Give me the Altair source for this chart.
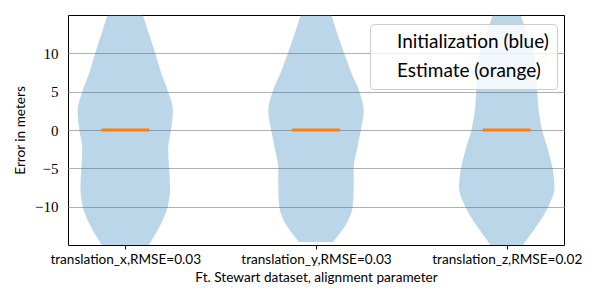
import altair as alt
import pandas as pd

# ---- data ----
param_pos = [1, 2, 3]
param_labels = ["translation_x,RMSE=0.03", "translation_y,RMSE=0.03", "translation_z,RMSE=0.02"]

# error levels (metres) at which the violin outline was read, top to bottom
levels_x = [15, 12.5, 10, 7.5, 5, 2.5, 0, -2.5, -5, -7.5, -10, -12.5, -15]
dens_x = [0.37, 0.50, 0.63, 0.75, 0.90, 1.00, 0.96, 0.90, 0.92, 0.94, 0.89, 0.73, 0.49]

levels_y = [15, 12.5, 10, 7.5, 5, 2.5, 0, -2.5, -5, -7.5, -10, -12.5, -14.6]
dens_y = [0.32, 0.45, 0.59, 0.74, 0.91, 1.00, 0.94, 0.86, 0.79, 0.79, 0.77, 0.61, 0.36]

levels_z = [15, 12.5, 10, 7.5, 5, 2.5, 0, -2.5, -5, -7.5, -10, -12.5, -15]
dens_z = [0.29, 0.43, 0.57, 0.62, 0.64, 0.67, 0.74, 0.86, 0.96, 1.00, 0.87, 0.63, 0.34]

estimate = [0.0, 0.0, 0.0]

series_names = ["Initialization (blue)", "Estimate (orange)"]
series_colors = ["#1f77b4", "#ff7f0e"]

# ---- tables ----
rows = []
for p, lv, dn in zip(param_pos, [levels_x, levels_y, levels_z], [dens_x, dens_y, dens_z]):
    for v, d in zip(lv, dn):
        rows.append({"param": p, "value": v, "lo": p - 0.25 * d, "hi": p + 0.25 * d,
                     "kind": series_names[0]})
violins = pd.DataFrame(rows)
est = pd.DataFrame({"param": param_pos, "est": estimate,
                    "lo": [p - 0.125 for p in param_pos], "hi": [p + 0.125 for p in param_pos],
                    "kind": series_names[1]})

label_expr = "[" + ",".join("'%s'" % s for s in param_labels) + "][datum.value - 1]"

SANS = "Lato"
SERIF = "Liberation Serif, serif"

xscale = alt.Scale(domain=[0.7, 3.3], nice=False, zero=False)
yscale = alt.Scale(domain=[-15, 15], nice=False, zero=False)
color = alt.Color(
    "kind:N",
    scale=alt.Scale(domain=series_names, range=series_colors),
    legend=alt.Legend(
        title=None,
        orient="none",
        legendX=302,
        legendY=9,
        symbolType="circle",
        symbolSize=0,
        symbolOpacity=0,
        symbolStrokeWidth=0,
        labelOffset=0,
        padding=8,
        rowPadding=9,
        labelFontSize=19,
        labelFont=SANS,
        labelColor="black",
        fillColor="rgba(255,255,255,0.8)",
        strokeColor="#cccccc",
        cornerRadius=4,
    ),
)

xaxis = alt.Axis(
    values=param_pos,
    labelExpr=label_expr,
    grid=False,
    tickSize=4,
    tickColor="black",
    labelPadding=3,
    labelFont=SANS,
    labelFontSize=13.6,
    labelColor="black",
    title="Ft. Stewart dataset, alignment parameter",
    titleFont=SANS,
    titleFontSize=13.6,
    titleFontWeight="normal",
    titleColor="black",
    titlePadding=5,
    domain=False,
)
yaxis = alt.Axis(
    values=[-10, -5, 0, 5, 10],
    grid=True,
    gridColor="#b0b0b0",
    gridWidth=1,
    ticks=False,
    labelPadding=10,
    labelFont=SERIF,
    labelFontSize=15,
    labelColor="black",
    title="Error in meters",
    titleFont=SANS,
    titleFontSize=13.6,
    titleFontWeight="normal",
    titleColor="black",
    titlePadding=7,
    domain=False,
)

violin = (
    alt.Chart(violins)
    .mark_area(interpolate="monotone", fillOpacity=0.3, clip=True)
    .encode(
        y=alt.Y("value:Q", scale=yscale, axis=yaxis),
        x=alt.X("lo:Q", scale=xscale, axis=xaxis),
        x2="hi:Q",
        detail="param:N",
        color=color,
    )
)

estimate_mark = (
    alt.Chart(est)
    .mark_rule(strokeWidth=3)
    .encode(
        y=alt.Y("est:Q", scale=yscale, axis=yaxis),
        x=alt.X("lo:Q", scale=xscale, axis=xaxis),
        x2="hi:Q",
        color=color,
    )
)

chart = (
    alt.layer(violin, estimate_mark)
    .properties(
        width=496,
        height=230,
        autosize=alt.AutoSizeParams(type="none"),
        padding={"left": 60, "top": 7, "right": 28, "bottom": 47},
    )
    .configure_view(stroke="black", strokeWidth=1)
)

chart.save("out.html", embed_options={"renderer": "svg", "actions": False})
